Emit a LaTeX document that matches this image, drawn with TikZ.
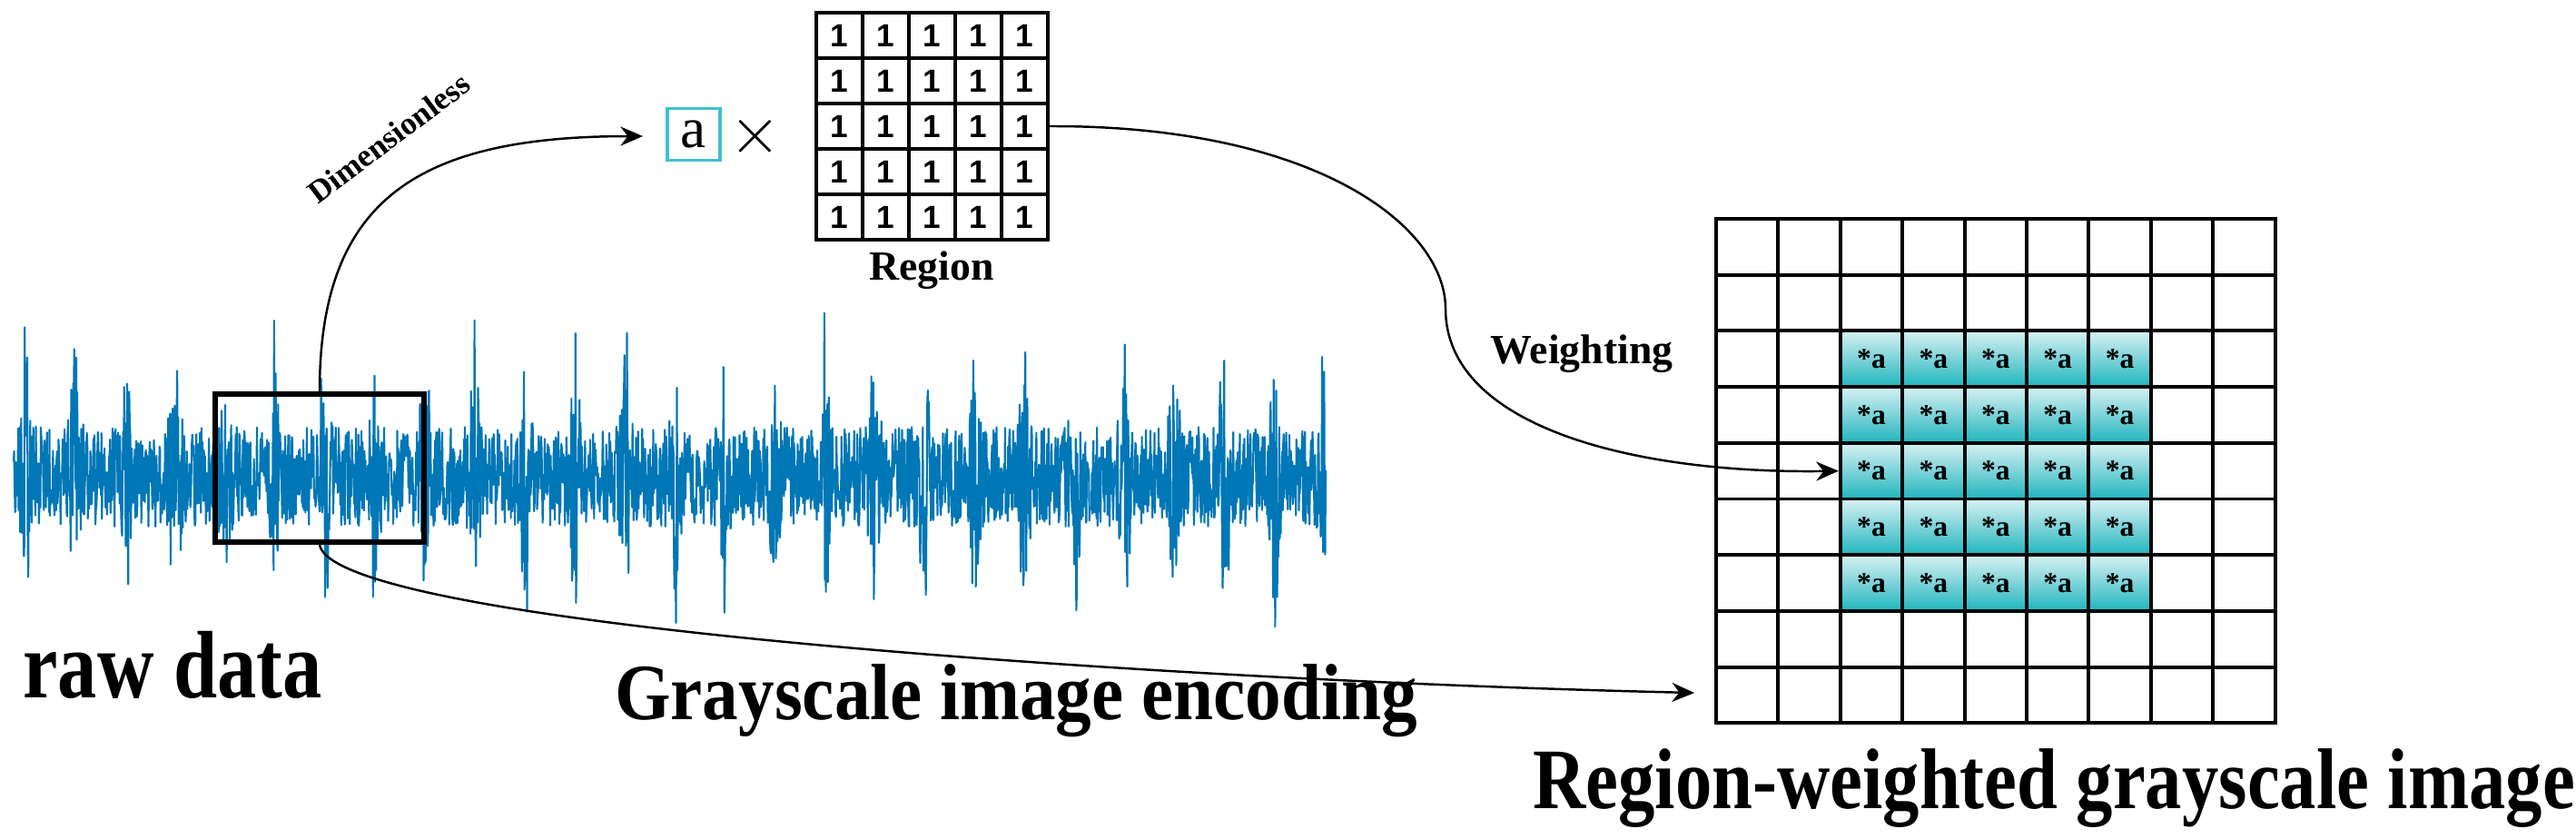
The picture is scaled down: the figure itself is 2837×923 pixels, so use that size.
\documentclass[tikz,border=0pt]{standalone}
\usepackage{fontspec}
\setmainfont{Liberation Serif}
\newfontfamily\sansf{Liberation Sans}
\usetikzlibrary{arrows.meta}
\definecolor{sig}{HTML}{0077B6}
\definecolor{cyanb}{HTML}{3EC1CF}
\definecolor{ctop}{HTML}{D8F1F3}
\definecolor{cbot}{HTML}{1FB5BE}
\tikzset{
  scell/.style={draw=black,line width=0.9pt,minimum width=0.51cm,minimum height=0.5cm,inner sep=0pt,font=\sansf\bfseries\fontsize{10}{10}\selectfont},
  bcell/.style={draw=black,line width=1.1pt,minimum width=0.684cm,minimum height=0.617cm,inner sep=0pt},
  wcell/.style={bcell,top color=ctop,bottom color=cbot,font=\bfseries\fontsize{9}{9}\selectfont},
  conn/.style={line width=0.7pt,-{Stealth[length=7pt,width=6pt]}},
  lbl/.style={font=\bfseries\fontsize{#1}{#1}\selectfont,inner sep=0pt}
}
\begin{document}
\begin{tikzpicture}[x=0.01cm,y=-0.01cm]
\useasboundingbox (0,0) rectangle (2837,923);
% signal
\pgfmathsetseed{11}
\draw[sig,line width=0.6pt,line join=round] plot[domain=15:1460,samples=2600]
  (\x,{525+(55+140*(0.35+0.65*rnd)*pow(abs(sin(\x*3.27)),24))*rand});
% box
\node[draw=black,line width=1.8pt,minimum width=2.3cm,minimum height=1.63cm,inner sep=0pt] (box) at (352,515.5) {};
% a box
\node[draw=cyanb,line width=1pt,minimum width=0.58cm,minimum height=0.57cm,inner sep=0pt,font=\fontsize{18}{18}\selectfont] (abox) at (764,148) {a};
\node[font=\fontsize{22}{22}\selectfont,inner sep=0pt] (times) at (832,150) {$\times$};
\coordinate (aarr) at (708,150);
% small grid
\foreach \r in {1,...,5}{\foreach \c in {1,...,5}{
  \node[scell] (s-\r-\c) at ({899+25.5+51*(\c-1)},{14+25+50*(\r-1)}) {1};}}
\node[lbl=13] (region) at (1026,298) {Region};
% big grid
\foreach \r in {1,...,9}{\foreach \c in {1,...,9}{
  \pgfmathtruncatemacro\inr{(\r>2)&&(\r<8)&&(\c>2)&&(\c<8)}
  \ifnum\inr=1
    \node[wcell] (g-\r-\c) at ({1890+34.2+68.4*(\c-1)},{241+30.85+61.7*(\r-1)}) {*a};
  \else
    \node[bcell] (g-\r-\c) at ({1890+34.2+68.4*(\c-1)},{241+30.85+61.7*(\r-1)}) {};
  \fi}}
\coordinate (garr) at (1866,763);
% connectors
\draw[conn] (box.north) .. controls (352,220) and (460,150) .. (aarr);
\draw[conn] (s-3-5.east) .. controls (1450,138) and (1592,250) .. (1592,340)
   .. controls (1592,470) and (1800,522) .. (g-5-3.west);
\draw[conn] (box.south) .. controls (370,690) and (1300,750) .. (garr);
% labels
\node[lbl=10,rotate=37] (dim) at (428,152) {Dimensionless};
\node[lbl=13] (wt) at (1742,390) {Weighting};
\node[lbl=30] (raw) at (190,732) {\scalebox{0.82}[1]{raw data}};
\node[lbl=25] (enc) at (1119,772) {\scalebox{0.9}[1]{Grayscale image encoding}};
\node[lbl=27] (rw) at (2262,868) {\scalebox{0.85}[1]{Region-weighted grayscale image}};
\end{tikzpicture}
\end{document}
